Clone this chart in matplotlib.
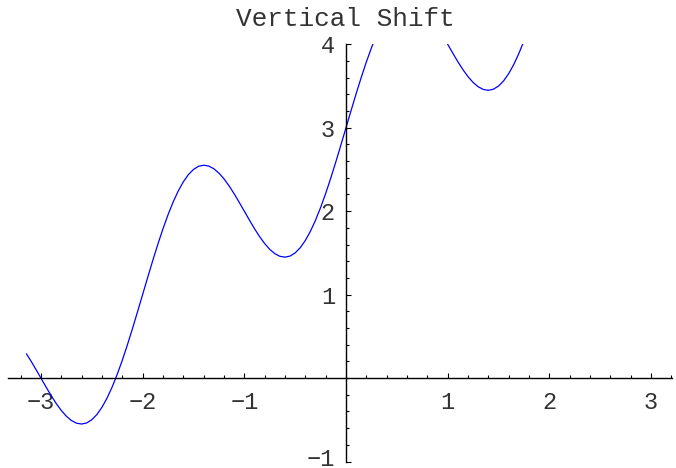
import matplotlib
matplotlib.use("Agg")
import matplotlib.pyplot as plt
import matplotlib.transforms as mtrans
from matplotlib.ticker import MultipleLocator, FixedLocator

plt.rcParams['font.family'] = ['Liberation Mono', 'DejaVu Sans']

## curve values (left branch runs up to the top edge y=4)
x_left = [-3.1416, -3.1, -3.05, -3.0, -2.95, -2.9, -2.85, -2.8, -2.75, -2.7, -2.65, -2.6,
          -2.55, -2.5, -2.45, -2.4, -2.35, -2.3, -2.25, -2.2, -2.15, -2.1, -2.05, -2.0,
          -1.95, -1.9, -1.85, -1.8, -1.75, -1.7, -1.65, -1.6, -1.55, -1.5, -1.45, -1.4,
          -1.35, -1.3, -1.25, -1.2, -1.15, -1.1, -1.05, -1.0, -0.95, -0.9, -0.85, -0.8,
          -0.75, -0.7, -0.65, -0.6, -0.55, -0.5, -0.45, -0.4, -0.35, -0.3, -0.25, -0.2,
          -0.15, -0.1, -0.05, 0.0, 0.05, 0.1, 0.15, 0.2, 0.25, 0.2635]
y_left = [0.289, 0.209, 0.106, 0.0, -0.106, -0.209, -0.304, -0.388, -0.457, -0.509, -0.541, -0.551,
          -0.538, -0.5, -0.438, -0.351, -0.241, -0.109, 0.043, 0.212, 0.396, 0.591, 0.794, 1.0,
          1.206, 1.409, 1.604, 1.788, 1.957, 2.109, 2.241, 2.351, 2.438, 2.5, 2.538, 2.551,
          2.541, 2.509, 2.457, 2.388, 2.304, 2.209, 2.106, 2.0, 1.894, 1.791, 1.696, 1.612,
          1.543, 1.491, 1.459, 1.449, 1.462, 1.5, 1.562, 1.649, 1.759, 1.891, 2.043, 2.212,
          2.396, 2.591, 2.794, 3.0, 3.206, 3.409, 3.604, 3.788, 3.957, 4.0]

## right branch, comes back in from the top edge
x_right = [1.0, 1.05, 1.1, 1.15, 1.2, 1.25, 1.3, 1.35, 1.4, 1.45, 1.5, 1.55, 1.6, 1.65, 1.7, 1.7365]
y_right = [4.0, 3.894, 3.791, 3.696, 3.612, 3.543, 3.491, 3.459, 3.449, 3.462, 3.5, 3.562,
           3.649, 3.759, 3.891, 4.0]

x_ticks = [-3, -2, -1, 1, 2, 3]
y_ticks = [-1, 1, 2, 3, 4]

W, H = 676, 468
fig = plt.figure(figsize=(W / 100, H / 100), dpi=100)

# pixel geometry of the axes box
left_px, right_px = 8, 672
top_px, bottom_px = 44.3, 461.5
x0_px, px_per_x = 346, 101.7

ax = fig.add_axes([left_px / W, 1 - bottom_px / H,
                   (right_px - left_px) / W, (bottom_px - top_px) / H])
ax.set_xlim((left_px - x0_px) / px_per_x, (right_px - x0_px) / px_per_x)
ax.set_ylim(-1, 4)

ax.plot(x_left, y_left, color='#0000ff', lw=0.9)
ax.plot(x_right, y_right, color='#0000ff', lw=0.9)

# Mathematica style axes crossing at the origin
ax.spines['top'].set_visible(False)
ax.spines['right'].set_visible(False)
ax.spines['bottom'].set_position(('data', 0))
ax.spines['left'].set_position(('data', 0))
for s in ('bottom', 'left'):
    ax.spines[s].set_linewidth(1.0)

ax.xaxis.set_major_locator(FixedLocator(x_ticks))
ax.yaxis.set_major_locator(FixedLocator(y_ticks))
ax.xaxis.set_minor_locator(MultipleLocator(0.2))
ax.yaxis.set_minor_locator(MultipleLocator(0.2))
ax.set_xticklabels([str(t).replace('-', '\u2212') for t in x_ticks])
ax.set_yticklabels([str(t).replace('-', '\u2212') for t in y_ticks])

ax.tick_params(which='both', direction='in', width=0.8, labelsize=17, colors='black')
ax.tick_params(which='major', length=3.6)
ax.tick_params(which='minor', length=2.2)
ax.tick_params(axis='x', which='major', pad=9)
ax.tick_params(axis='y', which='major', pad=8)
for lab in ax.get_xticklabels() + ax.get_yticklabels():
    lab.set_color('#333333')

# the -1 label sits a little above its tick, keeps it inside the picture
lab_m1 = ax.get_yticklabels()[0]
lab_m1.set_transform(lab_m1.get_transform() +
                     mtrans.ScaledTranslation(0, 5 / 100, fig.dpi_scale_trans))

fig.text(345 / W, 1 - 19 / H, 'Vertical Shift', ha='center', va='center',
         fontsize=18.8, color='#333333')

fig.savefig('out.png', dpi=100)
